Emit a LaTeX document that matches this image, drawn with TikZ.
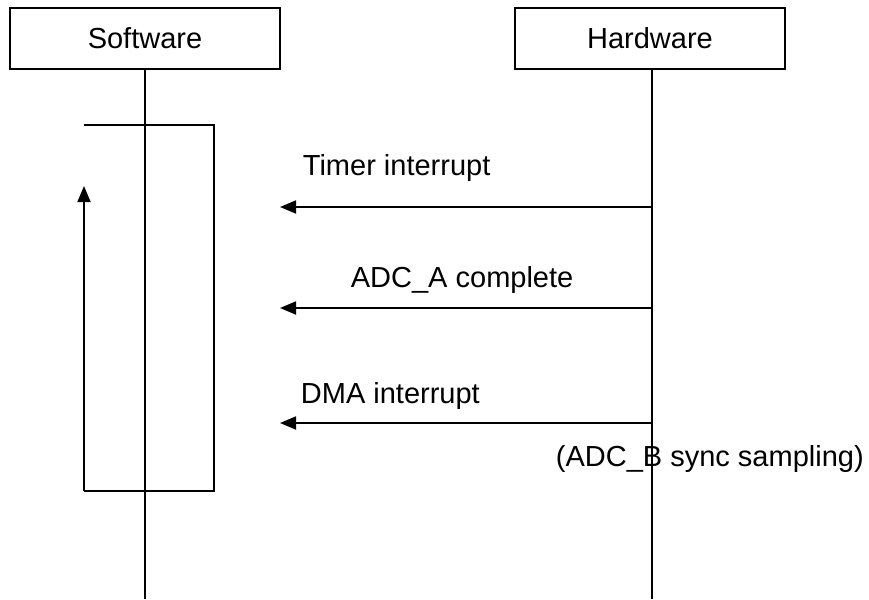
\documentclass[tikz,border=0pt]{standalone}
\usepackage{fontspec}
\setmainfont{Liberation Sans}
\usetikzlibrary{arrows.meta}
\begin{document}
\begin{tikzpicture}[x=1pt,y=-1pt,
  line width=1.8pt,
  actor/.style={draw,line width=1.8pt,minimum width=270pt,minimum height=61pt,
    inner sep=0pt,font=\fontsize{29}{34}\selectfont},
  msg/.style={-{Triangle[length=16pt,width=13pt]}},
  lbl/.style={anchor=base west,inner sep=0pt,font=\fontsize{29}{34}\selectfont}]
\useasboundingbox (0,0) rectangle (869,599);
% participants
\node[actor] (sw) at (145,38.5) {Software};
\node[actor] (hw) at (650,38.5) {Hardware};
% lifelines
\coordinate (swend) at (145,599);
\coordinate (hwend) at (652,599);
\draw (sw.south -| swend) -- (swend);
\draw (hw.south -| hwend) -- (hwend);
% processing loop on the software side
\coordinate (lA) at (84,125);
\coordinate (lB) at (214,125);
\coordinate (lC) at (214,491);
\coordinate (lD) at (84,491);
\coordinate (lE) at (84,186);
\draw (lA) -- (lB) -- (lC) -- (lD);
\draw[msg] (lD) -- (lE);
% messages from hardware to software
\coordinate (h1) at (652,207);
\coordinate (s1) at (280,207);
\coordinate (h2) at (652,308);
\coordinate (s2) at (280,308);
\coordinate (h3) at (652,423);
\coordinate (s3) at (280,423);
\draw[msg] (h1) -- (s1);
\draw[msg] (h2) -- (s2);
\draw[msg] (h3) -- (s3);
% labels
\node[lbl] (t1) at (302,175) {Timer interrupt};
\node[lbl] (t2) at (350,287) {ADC\_A complete};
\node[lbl] (t3) at (300,403) {DMA interrupt};
\node[lbl] (t4) at (555,466) {(ADC\_B sync sampling)};
\end{tikzpicture}
\end{document}
